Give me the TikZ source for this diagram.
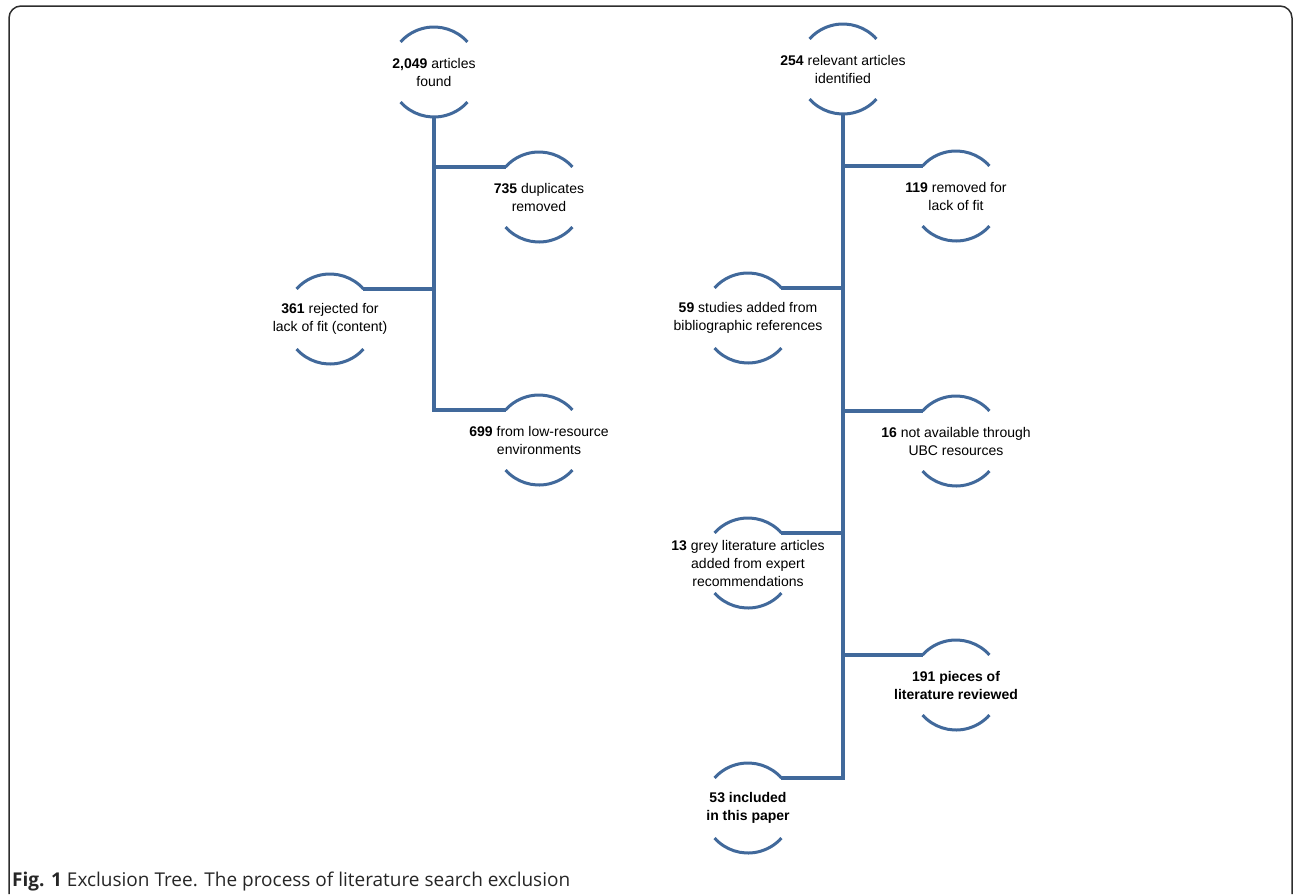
\documentclass[tikz,border=0pt]{standalone}
\usepackage{fontspec}
\setmainfont{Liberation Sans}
\newfontfamily\capfont{Open Sans}
\definecolor{treeblue}{RGB}{65,105,155}
\definecolor{framegray}{RGB}{45,45,45}
\tikzset{
  box/.style={align=center, inner sep=0pt, font=\fontsize{14}{18}\selectfont, text=black},
  treeline/.style={draw=treeblue, line width=3.6pt},
  arcline/.style={draw=treeblue, line width=3pt},
  frameline/.style={draw=framegray, line width=1.5pt, rounded corners=12pt},
}
% arcs around a node
\newcommand{\arcsof}[1]{%
  \draw[arcline] ([shift={(42:45pt)}]#1.center) arc[start angle=42,end angle=138,radius=45pt];
  \draw[arcline] ([shift={(222:45pt)}]#1.center) arc[start angle=222,end angle=318,radius=45pt];
}
\begin{document}
\begin{tikzpicture}[x=1pt,y=-1pt]
\useasboundingbox (0,0) rectangle (1295,894);
\draw[frameline] (9,894) -- (9,6) -- (1292,6) -- (1292,894);

% left tree
\node[box] (A) at (434,72) {\textbf{2,049} articles\\found};
\node[box] (B) at (539,197) {\textbf{735} duplicates\\removed};
\node[box] (C) at (330,319) {\textbf{361} rejected for\\lack of fit (content)};
\node[box] (D) at (539,440) {\textbf{699} from low-resource\\environments};
\foreach \n in {A,B,C,D}{\arcsof{\n}}
\coordinate (Abot) at ([shift={(0,-45pt)}]A.center);
\coordinate (Bl) at ([shift={(138:45pt)}]B.center);
\coordinate (Cr) at ([shift={(42:45pt)}]C.center);
\coordinate (Dl) at ([shift={(138:45pt)}]D.center);
\draw[treeline] (Abot) |- (Dl);
\draw[treeline] (Abot |- Bl) -- (Bl);
\draw[treeline] (Abot |- Cr) -- (Cr);

% right tree
\node[box] (R) at (843,69) {\textbf{254} relevant articles\\identified};
\node[box] (R1) at (956,196) {\textbf{119} removed for\\lack of fit};
\node[box] (R2) at (748,318) {\textbf{59} studies added from\\bibliographic references};
\node[box] (R3) at (956,441) {\textbf{16} not available through\\UBC resources};
\node[box] (R4) at (748,563) {\textbf{13} grey literature articles\\added from expert\\recommendations};
\node[box] (R5) at (956,685) {\textbf{191 pieces of}\\\textbf{literature reviewed}};
\node[box] (R6) at (748,808) {\textbf{53 included}\\\textbf{in this paper}};
\foreach \n in {R,R1,R2,R3,R4,R5,R6}{\arcsof{\n}}
\coordinate (Rbot) at ([shift={(0,-45pt)}]R.center);
\coordinate (R1l) at ([shift={(138:45pt)}]R1.center);
\coordinate (R2r) at ([shift={(42:45pt)}]R2.center);
\coordinate (R3l) at ([shift={(138:45pt)}]R3.center);
\coordinate (R4r) at ([shift={(42:45pt)}]R4.center);
\coordinate (R5l) at ([shift={(138:45pt)}]R5.center);
\coordinate (R6r) at ([shift={(42:45pt)}]R6.center);
\draw[treeline] (Rbot) |- (R6r);
\draw[treeline] (Rbot |- R1l) -- (R1l);
\draw[treeline] (Rbot |- R2r) -- (R2r);
\draw[treeline] (Rbot |- R3l) -- (R3l);
\draw[treeline] (Rbot |- R4r) -- (R4r);
\draw[treeline] (Rbot |- R5l) -- (R5l);

% caption
\node[anchor=base west, inner sep=0pt, font=\capfont\fontsize{19}{22}\selectfont, text=black!85] (cap) at (12,886)
  {\textbf{Fig. 1} Exclusion Tree. The process of literature search exclusion};
\end{tikzpicture}
\end{document}
